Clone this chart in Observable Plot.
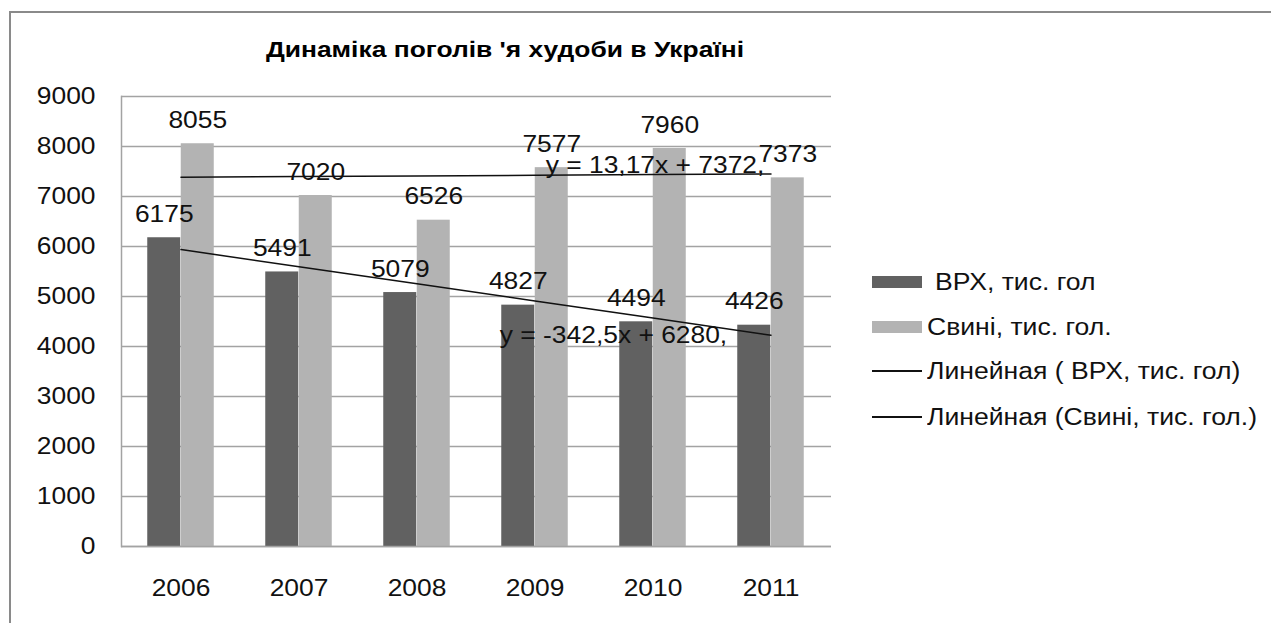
<!DOCTYPE html>
<html>
<head>
<meta charset="utf-8">
<script src="https://cdn.jsdelivr.net/npm/d3@7"></script>
<script src="https://cdn.jsdelivr.net/npm/@observablehq/plot@0.6"></script>
<style>
  body { margin: 0; background: #fff; font-family: "Liberation Sans", Arial, sans-serif; }
  #wrap { position: relative; width: 1271px; height: 623px; overflow: hidden; }
  #frame { position: absolute; left: 9px; top: 11px; width: 1300px; height: 700px; border-left: 2px solid #8a8a8a; border-top: 2px solid #8a8a8a; }
  #title { position: absolute; left: 505px; top: 37px; transform: translateX(-50%) scaleX(1.2); white-space: nowrap; font-weight: bold; font-size: 22px; color: #000; }
  .leg { position: absolute; font-size: 23.5px; color: #111; white-space: nowrap; transform: scaleX(1.13); transform-origin: left center; }
  .sw { position: absolute; }
</style>
</head>
<body>
<div id="wrap">
  <div id="frame"></div>
  <div id="chart" style="position:absolute;left:0;top:0;"></div>
  <div id="title"></div>
  <div id="legend"></div>
</div>
<script>
const years = ["2006", "2007", "2008", "2009", "2010", "2011"];
const cattle = [6175, 5491, 5079, 4827, 4494, 4426];
const pigs = [8055, 7020, 6526, 7577, 7960, 7373];
const yTicks = [0, 1000, 2000, 3000, 4000, 5000, 6000, 7000, 8000, 9000];
const seriesNames = ["ВРХ, тис. гол", "Свині, тис. гол."];
const trendNames = ["Линейная ( ВРХ, тис. гол)", "Линейная (Свині, тис. гол.)"];
const equations = ["y = -342,5x + 6280,", "y = 13,17x + 7372,"];
const titleText = "Динаміка поголів 'я худоби в Україні";

const darkFill = "#616161";
const lightFill = "#b3b3b3";
const gridColor = "#a3a3a3";

// least-squares trend (x = 1..n), as Excel's linear trendline
function fit(vals) {
  const xs = vals.map((_, i) => i + 1);
  const mx = d3.mean(xs), my = d3.mean(vals);
  const sxy = d3.sum(xs, (x, i) => (x - mx) * (vals[i] - my));
  const sxx = d3.sum(xs, x => (x - mx) ** 2);
  const slope = sxy / sxx;
  return {slope, intercept: my - slope * mx};
}
const fc = fit(cattle), fp = fit(pigs);

const table = years.map((year, i) => ({
  year,
  cattle: cattle[i],
  pigs: pigs[i],
  cattleTrend: fc.intercept + fc.slope * (i + 1),
  pigsTrend: fp.intercept + fp.slope * (i + 1)
}));

const fs = 24;
const half = 16.75;

const plot = Plot.plot({
  width: 1271,
  height: 623,
  marginLeft: 121,
  marginRight: 440,
  marginTop: 96,
  marginBottom: 77,
  style: {fontFamily: '"Liberation Sans", Arial, sans-serif', background: "transparent", color: "#111"},
  x: {domain: years, paddingInner: 0.717, paddingOuter: 0.3585, label: null},
  y: {domain: [0, 9000], label: null},
  marks: [
    Plot.gridY(yTicks, {stroke: gridColor, strokeOpacity: 1, strokeWidth: 1.5}),
    Plot.frame({anchor: "left", stroke: gridColor, strokeWidth: 1.5}),
    Plot.barY(table, {x: "year", y: "cattle", fill: darkFill, dx: -half}),
    Plot.barY(table, {x: "year", y: "pigs", fill: lightFill, dx: half}),
    Plot.ruleY([0], {stroke: gridColor, strokeWidth: 1.5}),
    Plot.line(table, {x: "year", y: "cattleTrend", stroke: "#111", strokeWidth: 1.5}),
    Plot.line(table, {x: "year", y: "pigsTrend", stroke: "#111", strokeWidth: 1.5}),
    Plot.text(table, {x: "year", y: "cattle", text: d => String(d.cattle), dx: -half, dy: -16, lineAnchor: "bottom", fontSize: fs, fill: "#111"}),
    Plot.text(table, {x: "year", y: "pigs", text: d => String(d.pigs), dx: half, dy: -16, lineAnchor: "bottom", fontSize: fs, fill: "#111"}),
    Plot.text([table[4]], {x: "year", y: "cattleTrend", text: () => equations[0], dx: -39.5, dy: 24.5, lineAnchor: "bottom", fontSize: fs, fill: "#111"}),
    Plot.text([table[4]], {x: "year", y: "pigsTrend", text: () => equations[1], dx: 2, dy: -2, lineAnchor: "bottom", fontSize: fs, fill: "#111"}),
    Plot.axisY(yTicks, {tickSize: 0, tickPadding: 26, fontSize: fs, fill: "#111", tickFormat: d => String(d)}),
    Plot.axisX({tickSize: 0, tickPadding: 32, fontSize: fs, fill: "#111"})
  ]
});
// horizontal stretch of texts (the reference text is widened), about each text's anchor
plot.querySelectorAll("text").forEach(t => {
  const tr = t.getAttribute("transform") || "";
  t.setAttribute("transform", `${tr} scale(1.1,1)`);
});
document.getElementById("chart").appendChild(plot);
document.getElementById("title").textContent = titleText;

// legend
const legend = document.getElementById("legend");
const legItems = [
  {name: seriesNames[0], kind: "box", color: darkFill, cy: 282, tx: 935},
  {name: seriesNames[1], kind: "box", color: lightFill, cy: 327, tx: 927},
  {name: trendNames[0], kind: "line", color: "#111", cy: 371, tx: 927},
  {name: trendNames[1], kind: "line", color: "#111", cy: 417, tx: 927}
];
for (const it of legItems) {
  const sw = document.createElement("div");
  sw.className = "sw";
  sw.style.left = "872px";
  sw.style.width = "50px";
  if (it.kind === "box") {
    sw.style.top = (it.cy - 6) + "px";
    sw.style.height = "12px";
  } else {
    sw.style.top = (it.cy - 1) + "px";
    sw.style.height = "1.5px";
  }
  sw.style.background = it.color;
  legend.appendChild(sw);
  const t = document.createElement("div");
  t.className = "leg";
  t.textContent = it.name;
  t.style.left = it.tx + "px";
  t.style.top = (it.cy - 14) + "px";
  t.style.lineHeight = "28px";
  legend.appendChild(t);
}
</script>
</body>
</html>
